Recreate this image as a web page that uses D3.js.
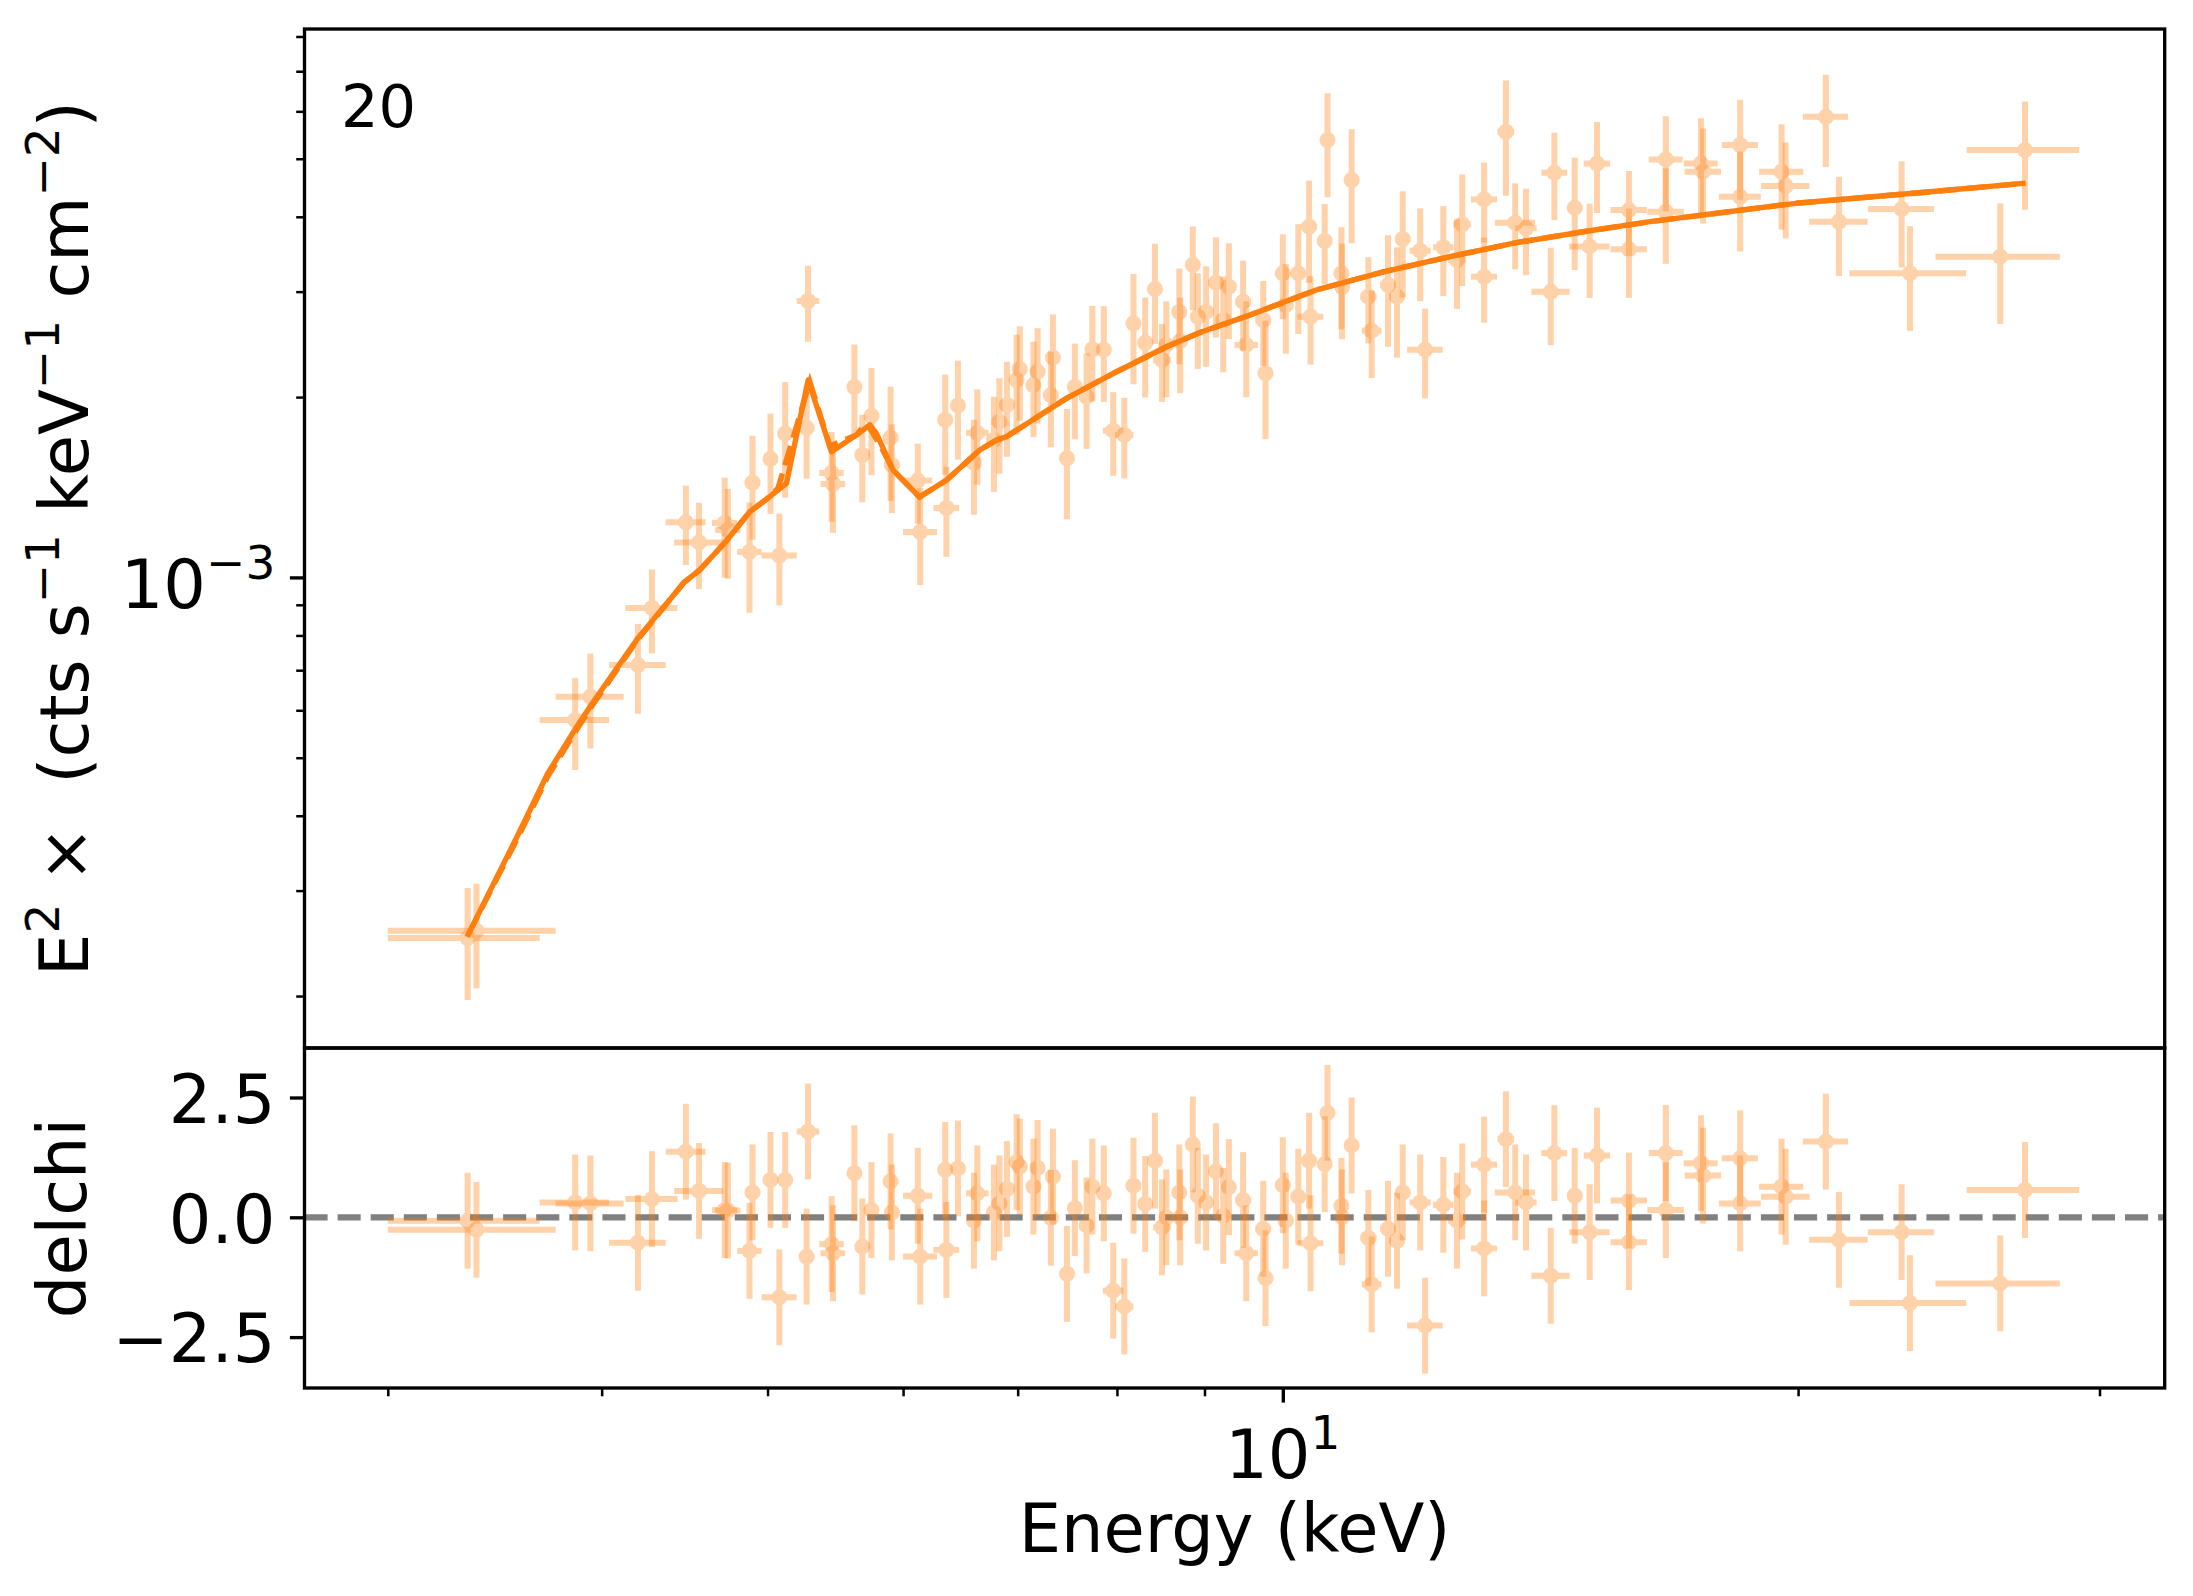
<!DOCTYPE html>
<html>
<head>
<meta charset="utf-8">
<script src="https://d3js.org/d3.v7.min.js"></script>
<style>
  body { margin: 0; background: #ffffff; }
  svg text { font-family: 'DejaVu Sans', sans-serif; fill: #000; }
</style>
</head>
<body>
<div id="chart"></div>
<script>
// spectrum bins (keV), bin half widths
const energy = [3.34,3.38,3.86,3.94,4.20,4.28,4.48,4.56,4.72,4.74,
  4.88,4.90,5.02,5.08,5.12,5.27,5.28,5.45,5.46,5.62,
  5.68,5.75,5.90,5.91,6.12,6.14,6.35,6.36,6.46,6.60,
  6.63,6.78,6.83,6.90,6.99,7.02,7.15,7.19,7.32,7.34,
  7.48,7.56,7.68,7.74,7.86,7.96,8.08,8.18,8.31,8.42,
  8.50,8.55,8.70,8.71,8.86,8.92,9.02,9.14,9.23,9.30,
  9.48,9.52,9.74,9.77,10.00,10.04,10.21,10.36,10.38,10.58,
  10.62,10.82,10.83,10.97,11.22,11.27,11.52,11.66,11.75,12.03,
  12.11,12.41,12.64,12.73,13.11,13.11,13.50,13.67,13.87,14.34,
  14.41,14.81,15.11,15.26,15.93,15.93,16.74,16.74,17.55,17.60,
  18.50,18.50,19.56,19.67,20.76,21.13,22.99,23.25,26.25,27.14];

const energyErr = [0.34,0.38,0.18,0.18,0.16,0.15,0.12,0.15,0.08,0.08,
  0.08,0.05,0.05,0.12,0.05,0.05,0.08,0.09,0.09,0.05,
  0.05,0.05,0.06,0.06,0.12,0.14,0.05,0.11,0.06,0.06,
  0.10,0.06,0.06,0.06,0.06,0.06,0.07,0.07,0.07,0.07,
  0.07,0.07,0.07,0.07,0.07,0.11,0.10,0.08,0.08,0.08,
  0.10,0.08,0.08,0.08,0.08,0.08,0.08,0.08,0.08,0.08,
  0.10,0.15,0.10,0.10,0.10,0.10,0.10,0.10,0.18,0.10,
  0.10,0.10,0.10,0.10,0.12,0.15,0.12,0.12,0.12,0.17,
  0.29,0.17,0.15,0.15,0.23,0.23,0.15,0.37,0.20,0.37,
  0.25,0.15,0.41,0.27,0.39,0.39,0.38,0.41,0.40,0.43,
  0.45,0.52,0.58,0.64,0.63,0.83,1.02,1.82,2.19,2.05];

// E^2 x counts, in units of 1e-3
const fluxE3 = [0.250,0.257,0.578,0.632,0.714,0.889,1.236,1.144,1.233,1.200,
  1.103,1.440,1.577,1.088,1.739,1.777,2.894,1.494,1.432,2.079,
  1.601,1.860,1.712,1.541,1.451,1.191,1.832,1.306,1.937,1.553,
  1.744,1.696,1.820,1.940,2.136,2.226,2.095,2.206,2.016,2.328,
  1.581,2.079,2.003,2.404,2.400,1.758,1.729,2.656,2.465,3.030,
  2.307,2.444,2.774,2.481,3.324,2.724,2.777,3.105,2.690,3.057,
  2.886,2.444,2.690,2.192,3.219,2.850,3.219,3.851,2.724,3.645,
  5.373,3.219,3.054,4.608,2.942,2.582,3.077,2.942,3.673,3.512,
  2.400,3.558,3.388,3.886,4.277,3.177,5.547,3.910,3.827,2.998,
  4.739,4.141,3.569,4.909,4.105,3.530,4.988,4.079,4.912,4.757,
  5.271,4.321,4.757,4.503,5.875,3.925,4.121,3.219,3.431,5.170];

const fluxErrE3 = [0.053,0.051,0.101,0.114,0.122,0.142,0.187,0.188,0.234,0.205,
  0.230,0.284,0.300,0.190,0.380,0.315,0.420,0.255,0.245,0.368,
  0.266,0.378,0.370,0.260,0.222,0.220,0.348,0.224,0.364,0.280,
  0.316,0.307,0.330,0.350,0.406,0.400,0.380,0.400,0.366,0.420,
  0.330,0.378,0.364,0.437,0.437,0.280,0.266,0.555,0.468,0.576,
  0.343,0.445,0.505,0.450,0.530,0.495,0.530,0.590,0.490,0.556,
  0.494,0.445,0.436,0.490,0.520,0.487,0.670,0.747,0.458,0.558,
  1.060,0.624,0.556,0.995,0.483,0.430,0.650,0.615,0.740,0.620,
  0.410,0.610,0.580,0.820,0.650,0.515,1.210,0.640,0.630,0.555,
  0.790,0.880,0.640,0.850,0.665,0.600,0.900,0.740,0.930,0.860,
  1.000,0.820,0.950,0.820,1.030,0.740,0.830,0.640,0.780,1.060];

const delchi = [-0.07,-0.26,0.31,0.29,-0.53,0.38,1.37,0.55,0.15,0.14,
  -0.70,0.52,0.78,-1.67,0.78,-0.82,1.79,-0.56,-0.75,0.92,
  -0.61,0.15,0.75,0.10,0.45,-0.82,0.99,-0.68,1.02,-0.07,
  0.50,0.10,0.29,0.59,1.15,1.06,0.64,1.03,-0.01,0.85,
  -1.18,0.19,-0.17,0.64,0.50,-1.53,-1.86,0.66,0.28,1.18,
  -0.21,0.00,0.52,0.00,1.52,0.45,0.31,0.96,0.03,0.63,
  0.36,-0.75,-0.24,-1.27,0.67,-0.07,0.43,1.18,-0.54,1.11,
  2.18,0.24,0.00,1.50,-0.43,-1.40,-0.24,-0.49,0.52,0.31,
  -2.26,0.26,-0.07,0.54,1.10,-0.65,1.63,0.52,0.31,-1.22,
  1.34,0.45,-0.31,1.29,0.35,-0.52,1.34,0.15,1.13,0.87,
  1.23,0.29,0.64,0.43,1.58,-0.47,-0.31,-1.79,-1.38,0.57];

// model curves (solid and dashed), flux in units of 1e-3
const modelAEnergy = [3.343,3.576,3.720,3.857,3.950,4.194,4.467,4.564,4.729,4.882,5.015,5.129,5.281,5.449,5.635,5.738,5.788,5.920,6.135,6.362,6.652,6.805,6.896,7.476,7.996,8.552,8.945,9.568,10.46,11.45,12.52,13.69,14.98,16.39,19.94,23.54,27.07];
const modelAFlux = [0.2534,0.3729,0.4705,0.5561,0.6164,0.7874,0.9798,1.029,1.149,1.287,1.364,1.436,2.136,1.621,1.729,1.797,1.740,1.511,1.362,1.454,1.632,1.696,1.718,1.991,2.205,2.427,2.564,2.742,3.019,3.238,3.431,3.621,3.777,3.926,4.213,4.387,4.548];
const modelBEnergy = [3.343,3.576,3.720,3.857,3.950,4.194,4.467,4.564,4.729,4.882,5.015,5.071,5.293,5.437,5.635,5.710,5.811,5.920,6.135,6.362,6.652,6.805,6.896,7.476,7.996,8.552,8.945,9.568,10.46,11.45,12.52,13.69,14.98,16.39,19.94,23.54,27.07];
const modelBFlux = [0.2534,0.3690,0.4650,0.5500,0.6110,0.7840,0.9798,1.029,1.149,1.287,1.364,1.410,2.122,1.657,1.729,1.811,1.674,1.511,1.362,1.454,1.632,1.696,1.718,1.991,2.205,2.427,2.564,2.742,3.019,3.238,3.431,3.621,3.777,3.926,4.213,4.387,4.548];

const xMajorTicks = [10];
const xMinorTicks = [3, 4, 5, 6, 7, 8, 9, 20, 30];
const yMajorTicks = [1e-3];
const yMinorTicks = [2e-4, 3e-4, 4e-4, 5e-4, 6e-4, 7e-4, 8e-4, 9e-4, 2e-3, 3e-3, 4e-3, 5e-3, 6e-3, 7e-3, 8e-3];
const delchiTicks = [-2.5, 0, 2.5];
const panelLabel = "20";

// ---------------------------------------------------------------
const W = 2193, H = 1596;
const L = 304.5, R = 2164.7, T = 29, MID = 1048, B = 1388;
const orange = "#ff7f0e";
const fontSize = 67, supSize = 47;
const majorLen = 14.6, minorLen = 8.3, tickPad = 14.6;
const modelWidth = 5.4;

const points = energy.map((e, i) => ({
  e, de: energyErr[i],
  f: fluxE3[i] * 1e-3, df: fluxErrE3[i] * 1e-3,
  chi: delchi[i]
}));
const modelA = modelAEnergy.map((e, i) => [e, modelAFlux[i] * 1e-3]);
const modelB = modelBEnergy.map((e, i) => [e, modelBFlux[i] * 1e-3]);

const x = d3.scaleLog().domain([2.682, 32.75]).range([L, R]);
const yTop = d3.scaleLog().domain([1.638e-4, 8.234e-3]).range([MID, T]);
const yBot = d3.scaleLinear().domain([-3.562, 3.533]).range([B, MID]);

const svg = d3.select("#chart").append("svg")
  .attr("width", W).attr("height", H)
  .attr("xmlns", "http://www.w3.org/2000/svg");

svg.append("rect").attr("width", W).attr("height", H).attr("fill", "#fff");

const defs = svg.append("defs");
defs.append("clipPath").attr("id", "clipTop").append("rect")
  .attr("x", L).attr("y", T).attr("width", R - L).attr("height", MID - T);
defs.append("clipPath").attr("id", "clipBot").append("rect")
  .attr("x", L).attr("y", MID).attr("width", R - L).attr("height", B - MID);

// ---- top panel: data
const gTop = svg.append("g").attr("clip-path", "url(#clipTop)");
const ptsTop = gTop.selectAll("g.pt").data(points).enter()
  .append("g").attr("class", "pt").attr("opacity", 0.35);
ptsTop.append("line")
  .attr("x1", d => x(d.e - d.de)).attr("x2", d => x(d.e + d.de))
  .attr("y1", d => yTop(d.f)).attr("y2", d => yTop(d.f))
  .attr("stroke", orange).attr("stroke-width", 6);
ptsTop.append("line")
  .attr("x1", d => x(d.e)).attr("x2", d => x(d.e))
  .attr("y1", d => yTop(d.f - d.df)).attr("y2", d => yTop(d.f + d.df))
  .attr("stroke", orange).attr("stroke-width", 6);
ptsTop.append("circle")
  .attr("cx", d => x(d.e)).attr("cy", d => yTop(d.f)).attr("r", 8)
  .attr("fill", orange);

// ---- top panel: models
const line = d3.line().x(d => x(d[0])).y(d => yTop(d[1]));
gTop.append("path").attr("d", line(modelB))
  .attr("fill", "none").attr("stroke", orange).attr("stroke-width", modelWidth)
  .attr("stroke-dasharray", "20,8.6");
gTop.append("path").attr("d", line(modelA))
  .attr("fill", "none").attr("stroke", orange).attr("stroke-width", modelWidth)
  .attr("stroke-linejoin", "round").attr("stroke-linecap", "square");

// ---- bottom panel: zero line + residuals
const gBot = svg.append("g").attr("clip-path", "url(#clipBot)");
gBot.append("line")
  .attr("x1", L).attr("x2", R).attr("y1", yBot(0)).attr("y2", yBot(0))
  .attr("stroke", "#808080").attr("stroke-width", 6.25)
  .attr("stroke-dasharray", "23.1,10");
const ptsBot = gBot.selectAll("g.pt").data(points).enter()
  .append("g").attr("class", "pt").attr("opacity", 0.35);
ptsBot.append("line")
  .attr("x1", d => x(d.e - d.de)).attr("x2", d => x(d.e + d.de))
  .attr("y1", d => yBot(d.chi)).attr("y2", d => yBot(d.chi))
  .attr("stroke", orange).attr("stroke-width", 6);
ptsBot.append("line")
  .attr("x1", d => x(d.e)).attr("x2", d => x(d.e))
  .attr("y1", d => yBot(d.chi - 1)).attr("y2", d => yBot(d.chi + 1))
  .attr("stroke", orange).attr("stroke-width", 6);
ptsBot.append("circle")
  .attr("cx", d => x(d.e)).attr("cy", d => yBot(d.chi)).attr("r", 8)
  .attr("fill", orange);

// ---- axes
function styleAxis(g, width) {
  g.select(".domain").remove();
  g.selectAll(".tick line").attr("stroke", "#000").attr("stroke-width", width);
}

svg.append("g").attr("transform", `translate(${L},0)`)
  .call(d3.axisLeft(yTop).tickValues(yMinorTicks).tickSize(minorLen).tickFormat(() => ""))
  .call(g => styleAxis(g, 2.5));
svg.append("g").attr("transform", `translate(${L},0)`)
  .call(d3.axisLeft(yTop).tickValues(yMajorTicks).tickSize(majorLen).tickFormat(() => ""))
  .call(g => styleAxis(g, 3.33));

const gyb = svg.append("g").attr("transform", `translate(${L},0)`)
  .call(d3.axisLeft(yBot).tickValues(delchiTicks).tickSize(majorLen).tickPadding(tickPad)
    .tickFormat(d3.format(".1f")))
  .call(g => styleAxis(g, 3.33));
gyb.selectAll(".tick text").attr("font-size", fontSize).attr("dy", "0.37em")
  .attr("font-family", "DejaVu Sans").attr("fill", "#000");

svg.append("g").attr("transform", `translate(0,${B})`)
  .call(d3.axisBottom(x).tickValues(xMinorTicks).tickSize(minorLen).tickFormat(() => ""))
  .call(g => styleAxis(g, 2.5));
svg.append("g").attr("transform", `translate(0,${B})`)
  .call(d3.axisBottom(x).tickValues(xMajorTicks).tickSize(majorLen).tickFormat(() => ""))
  .call(g => styleAxis(g, 3.33));

// power-of-ten tick labels
function powLabel(px, py, anchor, exp) {
  const t = svg.append("text").attr("x", px).attr("y", py)
    .attr("text-anchor", anchor).attr("font-size", fontSize);
  t.append("tspan").text("10");
  t.append("tspan").attr("font-size", supSize).attr("dy", -29).text(exp);
}
powLabel(L - majorLen - tickPad, yTop(yMajorTicks[0]) + 31, "end", "\u22123");
powLabel(x(xMajorTicks[0]), 1478, "middle", "1");

// ---- frames
svg.append("rect").attr("x", L).attr("y", T).attr("width", R - L).attr("height", MID - T)
  .attr("fill", "none").attr("stroke", "#000").attr("stroke-width", 3.33);
svg.append("rect").attr("x", L).attr("y", MID).attr("width", R - L).attr("height", B - MID)
  .attr("fill", "none").attr("stroke", "#000").attr("stroke-width", 3.33);

// ---- labels
svg.append("text").attr("x", 341).attr("y", 127).attr("font-size", 59).text(panelLabel);

svg.append("text").attr("x", (L + R) / 2).attr("y", 1552)
  .attr("text-anchor", "middle").attr("font-size", fontSize).text("Energy (keV)");

svg.append("text")
  .attr("transform", `translate(86,${(MID + B) / 2}) rotate(-90)`)
  .attr("text-anchor", "middle").attr("font-size", fontSize).text("delchi");

const yl = svg.append("text")
  .attr("transform", `translate(88,${(T + MID) / 2}) rotate(-90)`)
  .attr("text-anchor", "middle").attr("font-size", fontSize)
  .style("white-space", "pre");
const parts = [["E", 0], ["2", 1], [" \u00d7  (cts s", 0], ["\u22121", 1], [" keV", 0], ["\u22121", 1], [" cm", 0], ["\u22122", 1], [")", 0]];
let raised = false;
parts.forEach(([s, sup]) => {
  const ts = yl.append("tspan").text(s);
  if (sup) {
    ts.attr("font-size", supSize).attr("dy", raised ? 0 : -29);
    raised = true;
  } else {
    if (raised) ts.attr("dy", 29);
    raised = false;
  }
});
</script>
</body>
</html>
